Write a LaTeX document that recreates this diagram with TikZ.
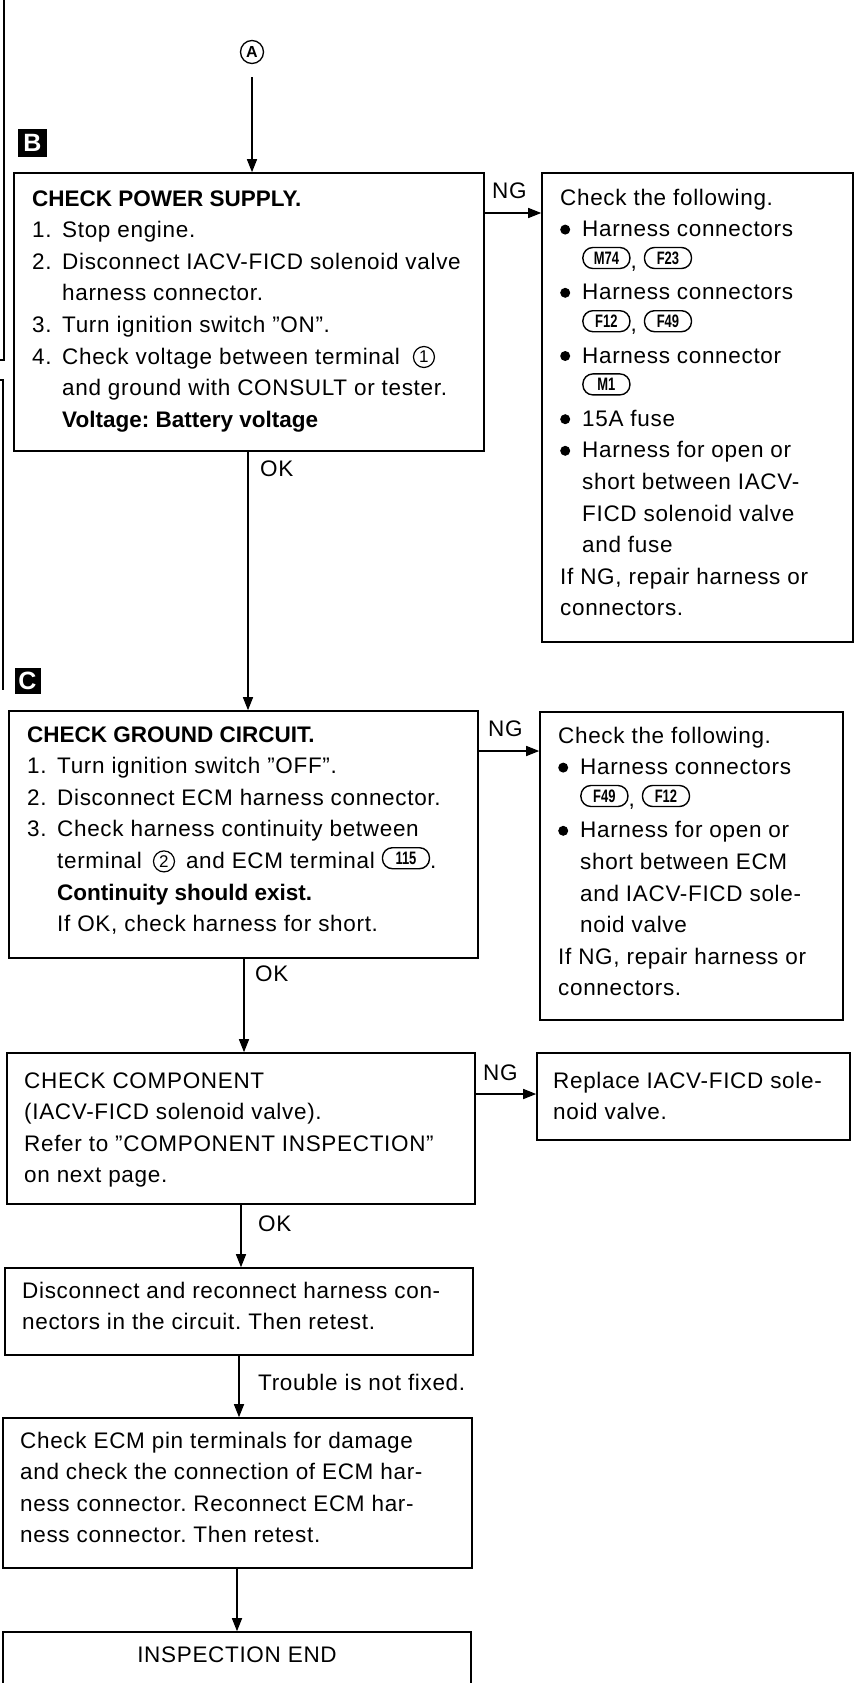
\documentclass[tikz,border=0pt]{standalone}
\usepackage{fontspec}
\setmainfont{Liberation Sans}[LetterSpace=3, BoldFeatures={LetterSpace=0}]
\usetikzlibrary{arrows.meta}
\frenchspacing

% body text size and line pitch
\newcommand\body{\fontsize{22.5pt}{31.6pt}\selectfont}
% a block of explicit lines, aligned on its first baseline
\newcommand\blk[1]{\parbox[t]{600pt}{\body #1}}
% numbered step and its hanging indent
\newcommand\itm[1]{\makebox[30pt][l]{#1}}
\newcommand\ind{\hspace*{30pt}}
% bullet item and its hanging indent
\newcommand\bul{\makebox[22pt][l]{\tikz[baseline=0pt]\fill (5pt,7pt) circle[radius=5pt];}}
\newcommand\indb{\hspace*{22pt}}
% harness connector badge
\newcommand\conn[1]{\tikz[baseline={([yshift=1pt]cb.south)}]\node[draw, line width=1.4pt,
  rounded corners=10pt, minimum width=47pt, minimum height=21pt, inner sep=0pt,
  anchor=center, font=\fontsize{18pt}{18pt}\bfseries] (cb) {\scalebox{0.72}[1]{#1}};}
% circled terminal number
\newcommand\cnum[1]{\tikz[baseline=0pt]\node[circle, draw, line width=1.2pt,
  minimum size=21pt, inner sep=0pt, anchor=center,
  font=\fontsize{17pt}{17pt}\selectfont] (cn) at (0pt,7pt) {#1};}

\tikzset{
  box/.style={draw, line width=1.6pt, inner sep=0pt},
  arr/.style={line width=1.5pt, -{Triangle[length=13pt,width=10pt]}},
  txt/.style={anchor=base west, inner sep=0pt},
  lbl/.style={anchor=base west, inner sep=0pt, font=\body},
  marker/.style={fill=black, inner sep=0pt, text=white, font=\fontsize{25pt}{25pt}\bfseries},
  edge/.style={line width=1.2pt},
}

\begin{document}
\begin{tikzpicture}[x=1pt, y=-1pt]
\clip (0,0) rectangle (858,1683);
\fill[white] (0,0) rectangle (858,1683);

% frame pieces of the neighbouring page
\draw[edge] (0,360) -- (4,360) -- (4,0);
\draw[edge] (0,380) -- (3,380) -- (3,690);

% entry point and section markers
\node[circle, draw, line width=1.3pt, minimum size=23pt, inner sep=0pt,
      font=\fontsize{16pt}{16pt}\bfseries] (A) at (252,52) {A};
\node[marker, minimum width=29pt, minimum height=27pt] (mB) at (32.5,143) {B};
\node[marker, minimum width=26pt, minimum height=26pt] (mC) at (27.5,680.5) {C};

% boxes
\node[box, minimum width=470pt, minimum height=278pt] (b1) at (249,312) {};
\node[box, minimum width=311pt, minimum height=469pt] (b2) at (697.5,407.5) {};
\node[box, minimum width=469pt, minimum height=247pt] (b3) at (243.5,834.5) {};
\node[box, minimum width=303pt, minimum height=308pt] (b4) at (691.5,866) {};
\node[box, minimum width=468pt, minimum height=151pt] (b5) at (241,1128.5) {};
\node[box, minimum width=313pt, minimum height=87pt] (b9) at (693.5,1096.5) {};
\node[box, minimum width=468pt, minimum height=87pt] (b6) at (239,1311.5) {};
\node[box, minimum width=469pt, minimum height=150pt] (b7) at (237.5,1493) {};
\node[box, minimum width=468pt, minimum height=88pt] (b8) at (237,1676) {};

% box texts
\node[txt] (t1) at (32,206) {\blk{%
\textbf{CHECK POWER SUPPLY.}\\
\itm{1.}Stop engine.\\
\itm{2.}Disconnect IACV-FICD solenoid valve\\
\ind harness connector.\\
\itm{3.}Turn ignition switch ''ON''.\\
\itm{4.}Check voltage between terminal \hspace{6pt}\cnum{1}\\
\ind and ground with CONSULT or tester.\\
\ind\textbf{Voltage: Battery voltage}}};

\node[txt] (t2) at (560,205) {\blk{%
Check the following.\\
\bul Harness connectors\\
\indb\conn{M74}, \conn{F23}\\
\bul Harness connectors\\
\indb\conn{F12}, \conn{F49}\\
\bul Harness connector\\
\indb\conn{M1}\\
\bul 15A fuse\\
\bul Harness for open or\\
\indb short between IACV-\\
\indb FICD solenoid valve\\
\indb and fuse\\
If NG, repair harness or\\
connectors.}};

\node[txt] (t3) at (27,742) {\blk{%
\textbf{CHECK GROUND CIRCUIT.}\\
\itm{1.}Turn ignition switch ''OFF''.\\
\itm{2.}Disconnect ECM harness connector.\\
\itm{3.}Check harness continuity between\\
\ind terminal \hspace{4pt}\cnum{2}\hspace{4pt} and ECM terminal \conn{115}.\\
\ind\textbf{Continuity should exist.}\\
\ind If OK, check harness for short.}};

\node[txt] (t4) at (558,743) {\blk{%
Check the following.\\
\bul Harness connectors\\
\indb\conn{F49}, \conn{F12}\\
\bul Harness for open or\\
\indb short between ECM\\
\indb and IACV-FICD sole-\\
\indb noid valve\\
If NG, repair harness or\\
connectors.}};

\node[txt] (t5) at (24,1088) {\blk{%
CHECK COMPONENT\\
(IACV-FICD solenoid valve).\\
Refer to ''COMPONENT INSPECTION''\\
on next page.}};

\node[txt] (t9) at (553,1088) {\blk{%
Replace IACV-FICD sole-\\
noid valve.}};

\node[txt] (t6) at (22,1298) {\blk{%
Disconnect and reconnect harness con-\\
nectors in the circuit. Then retest.}};

\node[txt] (t7) at (20,1448) {\blk{%
Check ECM pin terminals for damage\\
and check the connection of ECM har-\\
ness connector. Reconnect ECM har-\\
ness connector. Then retest.}};

\node[anchor=base, inner sep=0pt, font=\body] (t8) at (237,1662) {INSPECTION END};

% connector labels
\node[lbl] (ng1) at (492,198) {NG};
\node[lbl] (ng2) at (488,736) {NG};
\node[lbl] (ng3) at (483,1080) {NG};
\node[lbl] (ok1) at (260,476) {OK};
\node[lbl] (ok2) at (255,981) {OK};
\node[lbl] (ok3) at (258,1231) {OK};
\node[lbl] (tr) at (258,1390) {Trouble is not fixed.};

% connector routes
\coordinate (h1) at (500,213);
\coordinate (h2) at (500,751);
\coordinate (h3) at (500,1094);
\coordinate (v1) at (248,0);
\coordinate (v2) at (244,0);
\coordinate (v3) at (241,0);
\coordinate (v4) at (239,0);
\coordinate (v5) at (237,0);

\draw[arr] ([yshift=-13pt]A.south) -- (b1.north -| A);
\draw[arr] (b1.east |- h1) -- (b2.west |- h1);
\draw[arr] (b1.south -| v1) -- (b3.north -| v1);
\draw[arr] (b3.east |- h2) -- (b4.west |- h2);
\draw[arr] (b3.south -| v2) -- (b5.north -| v2);
\draw[arr] (b5.east |- h3) -- (b9.west |- h3);
\draw[arr] (b5.south -| v3) -- (b6.north -| v3);
\draw[arr] (b6.south -| v4) -- (b7.north -| v4);
\draw[arr] (b7.south -| v5) -- (b8.north -| v5);
\end{tikzpicture}
\end{document}
